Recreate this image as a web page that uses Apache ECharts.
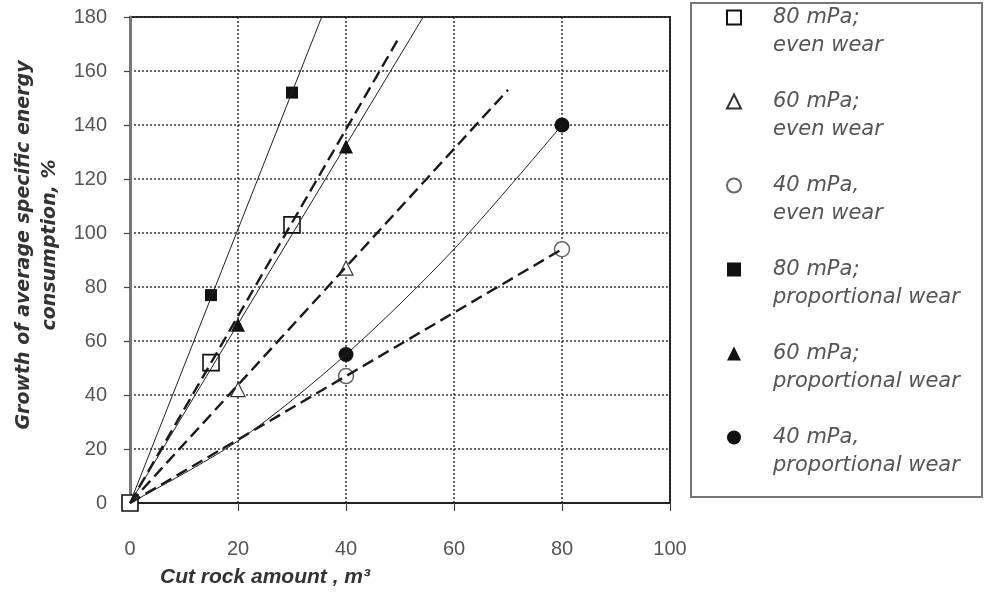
<!DOCTYPE html>
<html>
<head>
<meta charset="utf-8">
<script src="https://cdn.jsdelivr.net/npm/echarts@6/dist/echarts.min.js"></script>
<style>
  html, body { margin: 0; padding: 0; background: #fff; }
  #chart { width: 985px; height: 593px; }
</style>
</head>
<body>
<div id="chart"></div>
<script>
// Axis ranges and tick spacing
const xRange = [0, 100];
const xStep = 20;
const yRange = [0, 180];
const yStep = 20;

// Legend labels
const pressures = ['80 mPa;', '60 mPa;', '40 mPa,'];
const wearModes = ['even wear', 'proportional wear'];

// Measured points [cut rock amount, growth %]
const even80 = [[0, 0], [15, 52], [30, 103]];
const even60 = [[0, 0], [20, 42], [40, 87]];
const even40 = [[0, 0], [40, 47], [80, 94]];
const prop80 = [[0, 0], [15, 77], [30, 152]];
const prop60 = [[0, 0], [20, 66], [40, 132]];
const prop40 = [[0, 0], [40, 55], [80, 140]];

// Fitted trend lines
const even80Trend = [[0, 0], [50, 173]];
const even60Trend = [[0, 0], [70, 153]];
const even40Trend = [[0, 0], [80, 94]];
const prop80Trend = [[0, 0], [35.5, 180]];
const prop60Trend = [[0, 0], [54.3, 180]];
const prop40Trend = [[0, 0], [20, 23], [40, 55], [60, 94], [80, 140]];

const FONT = 'Liberation Sans, Arial, sans-serif';
const WIDE_FONT = 'DejaVu Sans, Verdana, sans-serif';
const label = (pi, wi) => pressures[pi] + '\n' + wearModes[wi];

const pointSets = [
  { name: label(0, 0), data: even80, symbol: 'rect', size: 16, fill: '#fff', stroke: '#111', bw: 1.6, z: 4 },
  { name: label(1, 0), data: even60, symbol: 'triangle', size: 14, fill: '#fff', stroke: '#333', bw: 1.2, z: 3 },
  { name: label(2, 0), data: even40, symbol: 'circle', size: 15, fill: '#fff', stroke: '#666', bw: 1.5, z: 3 },
  { name: label(0, 1), data: prop80, symbol: 'rect', size: 12, fill: '#111', stroke: '#111', bw: 0, z: 3 },
  { name: label(1, 1), data: prop60, symbol: 'triangle', size: 14, fill: '#111', stroke: '#111', bw: 0, z: 3 },
  { name: label(2, 1), data: prop40, symbol: 'circle', size: 15, fill: '#111', stroke: '#111', bw: 0, z: 3 }
];

const trendSets = [
  { data: even80Trend, dashed: true },
  { data: even60Trend, dashed: true },
  { data: even40Trend, dashed: true },
  { data: prop80Trend, dashed: false },
  { data: prop60Trend, dashed: false },
  { data: prop40Trend, dashed: false, smooth: 0.3 }
];

const series = [];
pointSets.forEach((s) => {
  series.push({
    type: 'scatter',
    name: s.name,
    data: s.data,
    symbol: s.symbol,
    symbolSize: s.size,
    z: s.z,
    itemStyle: { color: s.fill, borderColor: s.stroke, borderWidth: s.bw, opacity: 1 },
    emphasis: { disabled: true }
  });
});
trendSets.forEach((t, i) => {
  series.push({
    type: 'line',
    name: 'trend ' + i,
    data: t.data,
    showSymbol: false,
    symbol: 'none',
    smooth: t.smooth || false,
    z: 5,
    silent: true,
    lineStyle: t.dashed
      ? { color: '#1a1a1a', width: 2.4, type: [12, 6] }
      : { color: '#222', width: 1 }
  });
});

const chart = echarts.init(document.getElementById('chart'), null, { renderer: 'canvas' });
chart.setOption({
  animation: false,
  backgroundColor: '#fff',
  grid: {
    left: 130, top: 17, right: 315, bottom: 90,
    show: true, borderColor: '#222', borderWidth: 2, backgroundColor: 'transparent'
  },
  xAxis: {
    type: 'value',
    min: xRange[0], max: xRange[1], interval: xStep,
    name: 'Cut rock amount , m³',
    nameLocation: 'middle',
    nameGap: 64,
    nameTextStyle: {
      fontFamily: FONT, fontSize: 21, fontWeight: 'bold', fontStyle: 'italic',
      color: '#333', padding: [0, 270, 0, 0]
    },
    axisLine: { show: true, lineStyle: { color: '#222', width: 2 } },
    axisTick: { show: true, inside: false, length: 8, lineStyle: { color: '#444', width: 1.2 } },
    axisLabel: { fontFamily: FONT, fontSize: 20, color: '#555', margin: 36 },
    splitLine: { show: true, lineStyle: { color: '#333', width: 1.5, type: [2, 2] } }
  },
  yAxis: {
    type: 'value',
    min: yRange[0], max: yRange[1], interval: yStep,
    name: 'Growth of average specific energy\nconsumption, %',
    nameLocation: 'middle',
    nameGap: 61,
    nameTextStyle: {
      fontFamily: WIDE_FONT, fontSize: 19, fontWeight: 'bold', fontStyle: 'italic',
      color: '#333', lineHeight: 26, padding: [0, 0, 0, 30]
    },
    axisLine: { show: true, lineStyle: { color: '#777', width: 3 } },
    axisTick: { show: true, inside: false, length: 6, lineStyle: { color: '#444', width: 1.2 } },
    axisLabel: { fontFamily: FONT, fontSize: 20, color: '#555', margin: 23 },
    splitLine: { show: true, lineStyle: { color: '#3a3a3a', width: 1.5, type: [2, 2] } }
  },
  legend: {
    data: pointSets.map((s) => s.name),
    orient: 'vertical',
    left: 726,
    top: 7,
    padding: 0,
    itemWidth: 14,
    itemHeight: 14,
    itemGap: 35,
    selectedMode: false,
    formatter: (name) => name.split('\n').map((line) => '{t|' + line + '}').join('\n'),
    textStyle: {
      padding: [28, 0, 0, 27],
      rich: {
        t: {
          fontFamily: WIDE_FONT, fontSize: 21, fontStyle: 'italic', color: '#555',
          lineHeight: 28
        }
      }
    }
  },
  graphic: [
    {
      type: 'rect',
      silent: true,
      shape: { x: 691, y: 3, width: 291, height: 494 },
      style: { fill: 'none', stroke: '#777', lineWidth: 2 }
    }
  ],
  series: series
});
</script>
</body>
</html>
